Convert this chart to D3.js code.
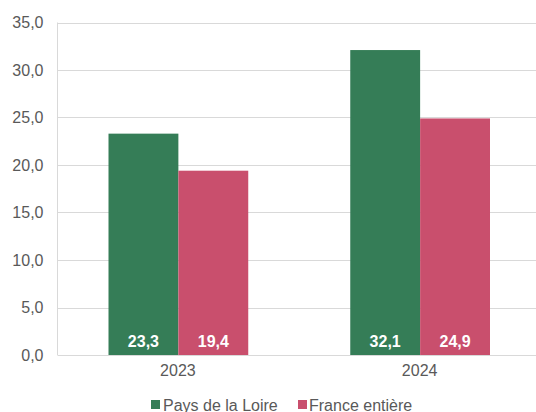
<!DOCTYPE html>
<html>
<head>
<meta charset="utf-8">
<script src="https://cdn.jsdelivr.net/npm/d3@7/dist/d3.min.js"></script>
<style>
  html, body { margin: 0; padding: 0; background: #fff; }
  svg { display: block; font-family: "Liberation Sans", Arial, sans-serif; }
</style>
</head>
<body>
<svg id="chart" width="536" height="412"></svg>
<script>
// Data
const years = ["2023", "2024"];
const seriesNames = ["Pays de la Loire", "France entière"];
const paysDeLaLoire = [23.3, 32.1];
const franceEntiere = [19.4, 24.9];
const yTicks = [0, 5, 10, 15, 20, 25, 30, 35];
const seriesColors = ["#357D57", "#C94F6D"];

const fmt = v => d3.format(".1f")(v).replace(".", ",");

const svg = d3.select("#chart");
const plot = { left: 57.5, right: 541, top: 22.5, bottom: 355 };

const y = d3.scaleLinear().domain([0, 35]).range([plot.bottom, plot.top]);
const x0 = d3.scaleBand().domain(years).range([plot.left, plot.right]).padding(0);
const x1 = d3.scaleBand().domain(seriesNames).range([0, x0.bandwidth()])
  .paddingInner(0).paddingOuter(0.73);

const values = [paysDeLaLoire, franceEntiere];

// Horizontal gridlines
svg.append("g")
  .selectAll("line")
  .data(yTicks.filter(t => t > 0))
  .join("line")
  .attr("x1", plot.left).attr("x2", plot.right)
  .attr("y1", d => Math.round(y(d)) + 0.5).attr("y2", d => Math.round(y(d)) + 0.5)
  .attr("stroke", "#d9d9d9").attr("stroke-width", 1);

// Left axis line
svg.append("line")
  .attr("x1", plot.left).attr("x2", plot.left)
  .attr("y1", plot.top).attr("y2", plot.bottom)
  .attr("stroke", "#d9d9d9");

// Y axis labels
const yAxis = d3.axisLeft(y).tickValues(yTicks).tickFormat(fmt).tickSize(0).tickPadding(14);
const gy = svg.append("g").attr("transform", `translate(${plot.left},0)`).call(yAxis);
gy.select(".domain").remove();
gy.selectAll("text")
  .attr("fill", "#595959")
  .style("font-size", "16px")
  .style("font-family", "'Liberation Sans', Arial, sans-serif");

// Bars
const groups = svg.append("g")
  .selectAll("g")
  .data(years)
  .join("g")
  .attr("transform", d => `translate(${x0(d)},0)`);

groups.selectAll("rect")
  .data((d, i) => seriesNames.map((s, j) => ({ s, j, v: values[j][i] })))
  .join("rect")
  .attr("x", d => x1(d.s))
  .attr("width", x1.bandwidth())
  .attr("y", d => y(d.v))
  .attr("height", d => y(0) - y(d.v))
  .attr("fill", d => seriesColors[d.j]);

// Value labels inside bars, near the base
groups.selectAll("text.val")
  .data((d, i) => seriesNames.map((s, j) => ({ s, j, v: values[j][i] })))
  .join("text")
  .attr("class", "val")
  .attr("x", d => x1(d.s) + x1.bandwidth() / 2)
  .attr("y", plot.bottom - 8.5)
  .attr("text-anchor", "middle")
  .attr("fill", "#ffffff")
  .style("font-size", "16px")
  .style("font-weight", "bold")
  .text(d => fmt(d.v));

// Baseline
svg.append("line")
  .attr("x1", plot.left).attr("x2", plot.right)
  .attr("y1", plot.bottom + 0.5).attr("y2", plot.bottom + 0.5)
  .attr("stroke", "#d9d9d9");

// X axis labels
const xAxis = d3.axisBottom(x0).tickSize(0).tickPadding(10);
const gx = svg.append("g").attr("transform", `translate(-0.5,${plot.bottom})`).call(xAxis);
gx.select(".domain").remove();
gx.selectAll("text")
  .attr("fill", "#595959")
  .style("font-size", "16px")
  .style("font-family", "'Liberation Sans', Arial, sans-serif");

// Legend
const legendX = [151, 298];
const legend = svg.append("g")
  .selectAll("g")
  .data(seriesNames)
  .join("g")
  .attr("transform", (d, i) => `translate(${legendX[i]},400)`);
legend.append("rect")
  .attr("width", 9).attr("height", 9)
  .attr("fill", (d, i) => seriesColors[i]);
legend.append("text")
  .attr("x", (d, i) => i === 0 ? 12 : 11)
  .attr("y", 10.5)
  .attr("fill", "#595959")
  .style("font-size", "16px")
  .text(d => d);
</script>
</body>
</html>
